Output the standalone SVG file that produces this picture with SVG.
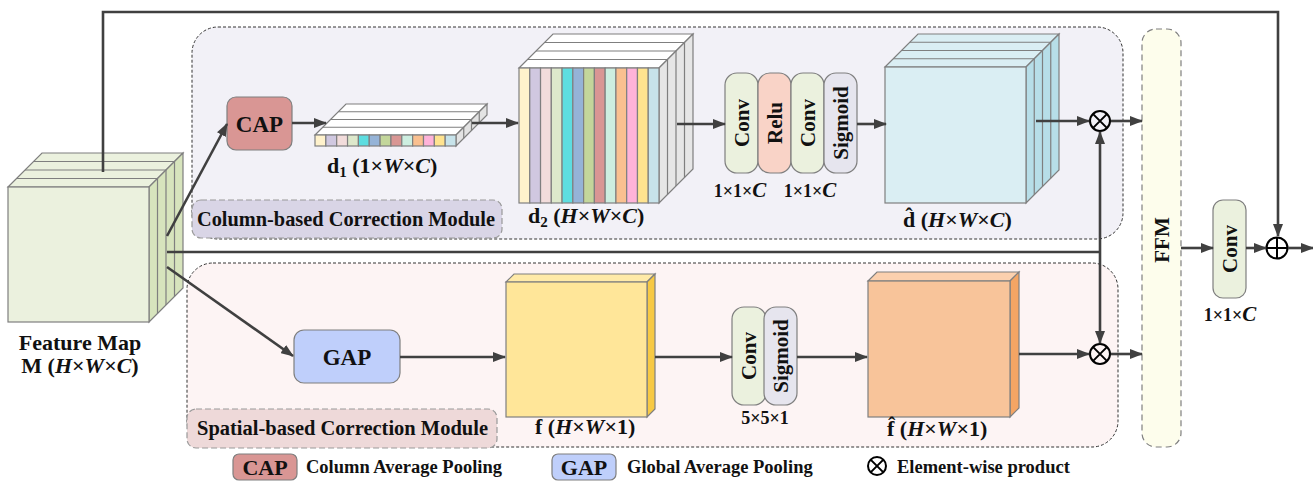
<svg xmlns="http://www.w3.org/2000/svg" width="1313" height="481" viewBox="0 0 1313 481">
<defs>
<style>
text{font-family:"Liberation Serif","Times New Roman",serif;font-weight:bold;fill:#111}
.cs{stroke:#7f7f7f;stroke-width:1.2}
.ln{fill:none;stroke:#7f7f7f;stroke-width:1.2}
.con{fill:none;stroke:#404040;stroke-width:2.6}
.arr{marker-end:url(#ah)}
.op{fill:none;stroke:#000;stroke-width:2}
.lab{font-size:22px}
.rot{font-size:21px}
.small{font-size:18px}
.leg{font-size:18.5px}
</style>
<marker id="ah" viewBox="0 0 13 10" refX="12" refY="5" markerWidth="13" markerHeight="10" markerUnits="userSpaceOnUse" orient="auto">
<path d="M0,0 L13,5 L0,10 z" fill="#404040"/>
</marker>
</defs>
<rect width="1313" height="481" fill="#fff"/>

<g id="column-module">
<rect x="192" y="27" width="931" height="212" rx="26" fill="#f2f1f7" stroke="#333" stroke-width="1" stroke-dasharray="3,2"/>
</g>
<g id="spatial-module">
<rect x="187" y="263" width="931" height="184" rx="26" fill="#fdf4f4" stroke="#333" stroke-width="1" stroke-dasharray="3,2"/>
</g>
<g id="ffm">
<rect x="1142" y="29" width="39" height="418" rx="14" fill="#fdfdec" stroke="#7f7f7f" stroke-width="1.2" stroke-dasharray="6,4"/>
<text class="rot" transform="translate(1162,240) rotate(-90)" text-anchor="middle" y="7">FFM</text>
</g>

<g id="feature-map">
<polygon points="8,187 149,187 183,153 42,153" fill="#ebf1de" class="cs"/>
<polygon points="149,187 183,153 183,288 149,322" fill="#d7e4bd" class="cs"/>
<path class="ln" d="M16.5,178.5H157.5M25,170H166M33.5,161.5H174.5M157.5,178.5V313.5M166,170V305M174.5,161.5V296.5"/>
<rect x="8" y="187" width="141" height="135" fill="#ebf1de" class="cs"/>
<text class="lab" x="80" y="350" text-anchor="middle">Feature Map</text>
<text class="lab" x="80" y="373" text-anchor="middle">M (<tspan font-style="italic">H</tspan>×<tspan font-style="italic">W</tspan>×<tspan font-style="italic">C</tspan>)</text>
</g>

<g id="cap">
<rect x="227" y="97" width="65" height="53" rx="9" fill="#d99694" class="cs"/>
<text x="259.5" y="131.5" text-anchor="middle" font-size="23">CAP</text>
</g>

<g id="d1">
<polygon points="315,135 456,135 487,104 346,104" fill="#fff" class="cs"/>
<polygon points="456,135 487,104 487,115 456,146" fill="#e3e3e3" class="cs"/>
<path class="ln" d="M322.75,127.25H463.75M330.5,119.5H471.5M338.25,111.75H479.25M463.75,127.25V138.25M471.5,119.5V130.5M479.25,111.75V122.75"/>
<g class="cs">
<rect x="315" y="135" width="10.85" height="11" fill="#fff2cc"/>
<rect x="325.85" y="135" width="10.85" height="11" fill="#d0c8e0"/>
<rect x="336.7" y="135" width="10.85" height="11" fill="#f2dcdb"/>
<rect x="347.55" y="135" width="10.85" height="11" fill="#dde8cb"/>
<rect x="358.4" y="135" width="10.85" height="11" fill="#5ddde0"/>
<rect x="369.25" y="135" width="10.85" height="11" fill="#95b3d7"/>
<rect x="380.1" y="135" width="10.85" height="11" fill="#c3d69b"/>
<rect x="390.95" y="135" width="10.85" height="11" fill="#d99694"/>
<rect x="401.8" y="135" width="10.85" height="11" fill="#cdeee0"/>
<rect x="412.65" y="135" width="10.85" height="11" fill="#fac090"/>
<rect x="423.5" y="135" width="10.85" height="11" fill="#ffb3d9"/>
<rect x="434.35" y="135" width="10.85" height="11" fill="#ffe38f"/>
<rect x="445.2" y="135" width="10.8" height="11" fill="#c7e3ea"/>
</g>
<text class="lab" x="327" y="173">d<tspan font-size="15" dy="4">1</tspan><tspan dy="-4"> (1×</tspan><tspan font-style="italic">W</tspan>×<tspan font-style="italic">C</tspan>)</text>
</g>

<g id="d2">
<polygon points="519,68 659,68 693,34 553,34" fill="#fff" class="cs"/>
<polygon points="659,68 693,34 693,169 659,203" fill="#e6e6e6" class="cs"/>
<path class="ln" d="M527.5,59.5H667.5M536,51H676M544.5,42.5H684.5M667.5,59.5V194.5M676,51V186M684.5,42.5V177.5"/>
<g class="cs">
<rect x="519" y="68" width="10.77" height="135" fill="#fff2cc"/>
<rect x="529.77" y="68" width="10.77" height="135" fill="#d0c8e0"/>
<rect x="540.54" y="68" width="10.77" height="135" fill="#f2dcdb"/>
<rect x="551.31" y="68" width="10.77" height="135" fill="#dde8cb"/>
<rect x="562.08" y="68" width="10.77" height="135" fill="#5ddde0"/>
<rect x="572.85" y="68" width="10.77" height="135" fill="#95b3d7"/>
<rect x="583.62" y="68" width="10.77" height="135" fill="#c3d69b"/>
<rect x="594.39" y="68" width="10.77" height="135" fill="#d99694"/>
<rect x="605.16" y="68" width="10.77" height="135" fill="#cdeee0"/>
<rect x="615.93" y="68" width="10.77" height="135" fill="#fac090"/>
<rect x="626.7" y="68" width="10.77" height="135" fill="#ffb3d9"/>
<rect x="637.47" y="68" width="10.77" height="135" fill="#ffe38f"/>
<rect x="648.24" y="68" width="10.76" height="135" fill="#c7e3ea"/>
</g>
<text class="lab" x="528" y="223">d<tspan font-size="15" dy="4">2</tspan><tspan dy="-4"> (</tspan><tspan font-style="italic">H</tspan>×<tspan font-style="italic">W</tspan>×<tspan font-style="italic">C</tspan>)</text>
</g>

<g id="conv-stack-top">
<rect x="725" y="73" width="33" height="100" rx="12" fill="#ebf1de" class="cs"/>
<rect x="758" y="73" width="33" height="100" rx="12" fill="#f9d3c7" class="cs"/>
<rect x="791" y="73" width="33" height="100" rx="12" fill="#ebf1de" class="cs"/>
<rect x="824" y="73" width="33" height="100" rx="12" fill="#e6e5ee" class="cs"/>
<text class="rot" transform="translate(741.5,123) rotate(-90)" text-anchor="middle" y="7">Conv</text>
<text class="rot" transform="translate(774.5,123) rotate(-90)" text-anchor="middle" y="7">Relu</text>
<text class="rot" transform="translate(807.5,123) rotate(-90)" text-anchor="middle" y="7">Conv</text>
<text class="rot" transform="translate(840.5,123) rotate(-90)" text-anchor="middle" y="7">Sigmoid</text>
<text class="small" x="740" y="197" text-anchor="middle">1×1×<tspan font-style="italic" font-size="21">C</tspan></text>
<text class="small" x="810" y="197" text-anchor="middle">1×1×<tspan font-style="italic" font-size="21">C</tspan></text>
</g>

<g id="d-hat">
<polygon points="885,67 1026,67 1059,34 918,34" fill="#daeef3" class="cs"/>
<polygon points="1026,67 1059,34 1059,170 1026,203" fill="#b7dee8" class="cs"/>
<path class="ln" d="M893.25,58.75H1034.25M901.5,50.5H1042.5M909.75,42.25H1050.75M1034.25,58.75V194.75M1042.5,50.5V186.5M1050.75,42.25V178.25"/>
<rect x="885" y="67" width="141" height="136" fill="#daeef3" class="cs"/>
<text class="lab" x="903" y="227">d̂ (<tspan font-style="italic">H</tspan>×<tspan font-style="italic">W</tspan>×<tspan font-style="italic">C</tspan>)</text>
</g>

<g id="gap">
<rect x="294" y="330" width="106" height="53" rx="10" fill="#bfcffb" class="cs"/>
<text x="347" y="365" text-anchor="middle" font-size="23">GAP</text>
</g>

<g id="f">
<polygon points="506,282 647,282 655,274 514,274" fill="#ffeaa8" class="cs"/>
<polygon points="647,282 655,274 655,409 647,417" fill="#f7c944" class="cs"/>
<rect x="506" y="282" width="141" height="135" fill="#ffe699" class="cs"/>
<text class="lab" x="535" y="434">f (<tspan font-style="italic">H</tspan>×<tspan font-style="italic">W</tspan>×1)</text>
</g>

<g id="conv-stack-bottom">
<rect x="732" y="307" width="34" height="98" rx="12" fill="#ebf1de" class="cs"/>
<rect x="764" y="307" width="33" height="98" rx="12" fill="#e6e5ee" class="cs"/>
<text class="rot" transform="translate(749,356) rotate(-90)" text-anchor="middle" y="7">Conv</text>
<text class="rot" transform="translate(780.5,356) rotate(-90)" text-anchor="middle" y="7">Sigmoid</text>
<text class="small" x="765" y="424" text-anchor="middle">5×5×1</text>
</g>

<g id="f-hat">
<polygon points="868,281 1010,281 1019,272 877,272" fill="#fbd0ae" class="cs"/>
<polygon points="1010,281 1019,272 1019,408 1010,417" fill="#f4a564" class="cs"/>
<rect x="868" y="281" width="142" height="136" fill="#f8c49a" class="cs"/>
<text class="lab" x="887" y="436">f̂ (<tspan font-style="italic">H</tspan>×<tspan font-style="italic">W</tspan>×1)</text>
</g>

<g id="column-label">
<rect x="192" y="200" width="310" height="38" rx="9" fill="#d9d5e6" stroke="#999" stroke-width="1.2" stroke-dasharray="6,3"/>
<text x="197" y="226" font-size="20" textLength="298" lengthAdjust="spacingAndGlyphs">Column-based Correction Module</text>
</g>
<g id="spatial-label">
<rect x="187" y="409" width="310" height="39" rx="9" fill="#eed9d9" stroke="#999" stroke-width="1.2" stroke-dasharray="6,3"/>
<text x="197" y="435" font-size="20.5" textLength="291" lengthAdjust="spacingAndGlyphs">Spatial-based Correction Module</text>
</g>

<g id="mult-top">
<circle cx="1100" cy="121" r="10" class="op"/>
<path d="M1092.9,113.9L1107.1,128.1M1107.1,113.9L1092.9,128.1" class="op"/>
</g>
<g id="mult-bottom">
<circle cx="1100" cy="354" r="10" class="op"/>
<path d="M1092.9,346.9L1107.1,361.1M1107.1,346.9L1092.9,361.1" class="op"/>
</g>

<g id="conv-final">
<rect x="1213" y="200" width="33" height="98" rx="10" fill="#ebf1de" class="cs"/>
<text class="rot" transform="translate(1229.5,249) rotate(-90)" text-anchor="middle" y="7">Conv</text>
<text class="small" x="1230" y="321" text-anchor="middle">1×1×<tspan font-style="italic" font-size="21">C</tspan></text>
</g>
<g id="add">
<circle cx="1277" cy="248" r="10.5" class="op"/>
<path d="M1266.5,248H1287.5M1277,237.5V258.5" class="op"/>
</g>

<g id="connectors">
<path class="con arr" d="M167,236L227,124"/>
<path class="con arr" d="M167,267L293,356"/>
<path class="con" d="M167,252H1100"/>
<path class="con arr" d="M1100,252V132"/>
<path class="con arr" d="M1100,252V343"/>
<path class="con arr" d="M103,172V12H1278V236"/>
<path class="con arr" d="M292,123H326"/>
<path class="con arr" d="M472,123H518"/>
<path class="con arr" d="M677,124H725"/>
<path class="con arr" d="M857,124H886"/>
<path class="con arr" d="M1036,121H1089"/>
<path class="con arr" d="M1111,121H1142"/>
<path class="con arr" d="M400,357H505"/>
<path class="con arr" d="M655,357H732"/>
<path class="con arr" d="M797,357H867"/>
<path class="con arr" d="M1019,354H1089"/>
<path class="con arr" d="M1111,354H1142"/>
<path class="con arr" d="M1181,248H1213"/>
<path class="con arr" d="M1246,248H1266"/>
<path class="con arr" d="M1288,248H1313"/>
</g>

<g id="legend">
<rect x="233" y="454" width="64" height="26" rx="6" fill="#d99694" class="cs"/>
<text x="265" y="475" text-anchor="middle" font-size="22">CAP</text>
<text class="leg" x="306" y="473">Column Average Pooling</text>
<rect x="552" y="454" width="64" height="26" rx="6" fill="#bfcffb" class="cs"/>
<text x="584" y="475" text-anchor="middle" font-size="22">GAP</text>
<text class="leg" x="627" y="473">Global Average Pooling</text>
<circle cx="877" cy="466" r="9" class="op"/>
<path d="M870.6,459.6L883.4,472.4M883.4,459.6L870.6,472.4" class="op"/>
<text class="leg" x="897" y="473">Element-wise product</text>
</g>
</svg>
